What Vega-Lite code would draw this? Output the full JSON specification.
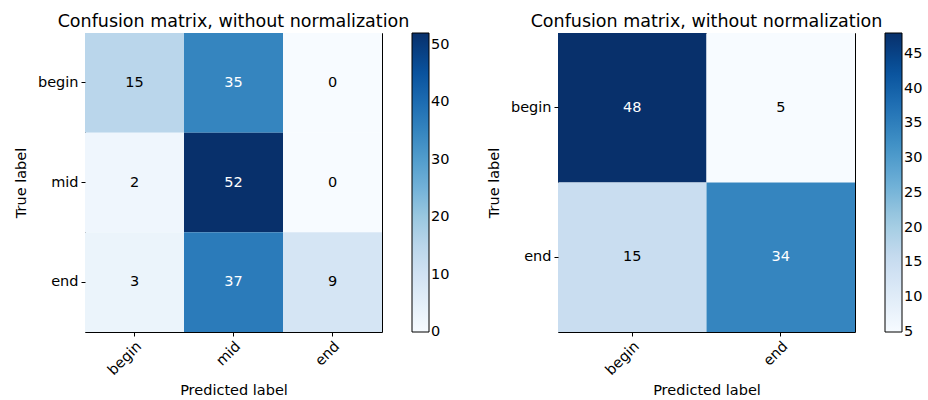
{
  "$schema": "https://vega.github.io/schema/vega-lite/v6.json",
  "background": "white",
  "padding": {"left": 12, "top": 12, "right": 5, "bottom": 5},
  "spacing": 34,
  "config": {
    "font": "DejaVu Sans",
    "view": {"stroke": "black", "strokeWidth": 1},
    "axis": {"domain": false, "grid": false, "tickColor": "black", "tickSize": 4, "tickWidth": 1, "labelFontSize": 14.5, "labelColor": "black", "titleFontSize": 14.5, "titleFontWeight": "normal", "titleColor": "black", "labelPadding": 3},
    "title": {"fontSize": 17.5, "fontWeight": "normal", "color": "black", "offset": 3, "frame": "group", "anchor": "middle"},
    "legend": {"gradientLength": 299, "gradientThickness": 17, "offset": 30, "labelFontSize": 14.5, "labelColor": "black", "gradientStrokeColor": "black", "gradientStrokeWidth": 1, "labelOverlap": false, "labelBaseline": "middle", "labelOffset": 6, "padding": 0}
  },
  "resolve": {"scale": {"color": "independent"}},
  "hconcat": [
    {
      "width": 297,
      "height": 299,
      "title": "Confusion matrix, without normalization",
      "data": {"values": [
        {"actual": "begin", "predicted": "begin", "count": 15},
        {"actual": "begin", "predicted": "mid", "count": 35},
        {"actual": "begin", "predicted": "end", "count": 0},
        {"actual": "mid", "predicted": "begin", "count": 2},
        {"actual": "mid", "predicted": "mid", "count": 52},
        {"actual": "mid", "predicted": "end", "count": 0},
        {"actual": "end", "predicted": "begin", "count": 3},
        {"actual": "end", "predicted": "mid", "count": 37},
        {"actual": "end", "predicted": "end", "count": 9}
      ]},
      "encoding": {
        "x": {"field": "predicted", "type": "nominal", "sort": ["begin", "mid", "end"], "scale": {"paddingInner": 0, "paddingOuter": 0}, "axis": {"title": "Predicted label", "labelAngle": -45, "labelAlign": "right", "labelBaseline": "top", "titlePadding": 6}},
        "y": {"field": "actual", "type": "nominal", "sort": ["begin", "mid", "end"], "scale": {"paddingInner": 0, "paddingOuter": 0}, "axis": {"title": "True label", "titlePadding": 9}}
      },
      "layer": [
        {"mark": "rect", "encoding": {"color": {"field": "count", "type": "quantitative", "scale": {"domain": [0, 6.5, 13, 19.5, 26, 32.5, 39, 45.5, 52], "range": ["#f7fbff", "#deebf7", "#c6dbef", "#9ecae1", "#6baed6", "#4292c6", "#2171b5", "#08519c", "#08306b"], "interpolate": "rgb"}, "legend": {"title": null, "values": [0, 10, 20, 30, 40, 50], "encode": {"labels": {"update": {"baseline": {"value": "middle"}}}}}}}},
        {"mark": {"type": "text", "fontSize": 14.5}, "encoding": {"text": {"field": "count", "type": "quantitative"}, "color": {"condition": {"test": "datum.count > 26", "value": "white"}, "value": "black"}}}
      ]
    },
    {
      "width": 297,
      "height": 299,
      "title": "Confusion matrix, without normalization",
      "data": {"values": [
        {"actual": "begin", "predicted": "begin", "count": 48},
        {"actual": "begin", "predicted": "end", "count": 5},
        {"actual": "end", "predicted": "begin", "count": 15},
        {"actual": "end", "predicted": "end", "count": 34}
      ]},
      "encoding": {
        "x": {"field": "predicted", "type": "nominal", "sort": ["begin", "end"], "scale": {"paddingInner": 0, "paddingOuter": 0}, "axis": {"title": "Predicted label", "labelAngle": -45, "labelAlign": "right", "labelBaseline": "top", "titlePadding": 6}},
        "y": {"field": "actual", "type": "nominal", "sort": ["begin", "end"], "scale": {"paddingInner": 0, "paddingOuter": 0}, "axis": {"title": "True label", "titlePadding": 9}}
      },
      "layer": [
        {"mark": "rect", "encoding": {"color": {"field": "count", "type": "quantitative", "scale": {"domain": [5, 10.375, 15.75, 21.125, 26.5, 31.875, 37.25, 42.625, 48], "range": ["#f7fbff", "#deebf7", "#c6dbef", "#9ecae1", "#6baed6", "#4292c6", "#2171b5", "#08519c", "#08306b"], "interpolate": "rgb"}, "legend": {"title": null, "values": [5, 10, 15, 20, 25, 30, 35, 40, 45], "encode": {"labels": {"update": {"baseline": {"value": "middle"}}}}}}}},
        {"mark": {"type": "text", "fontSize": 14.5}, "encoding": {"text": {"field": "count", "type": "quantitative"}, "color": {"condition": {"test": "datum.count > 24", "value": "white"}, "value": "black"}}}
      ]
    }
  ]
}
